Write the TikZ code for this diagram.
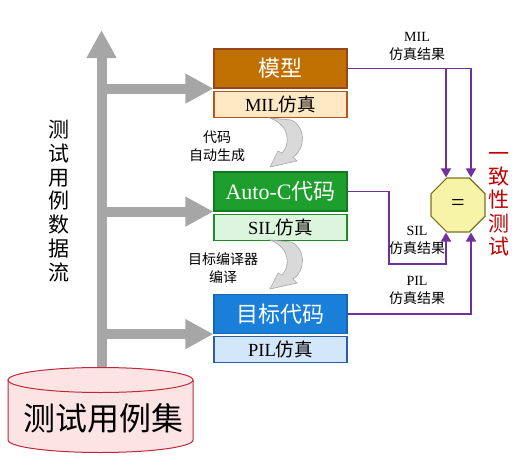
\documentclass[tikz,border=0pt]{standalone}
\usepackage{fontspec}
\setmainfont{Liberation Serif}
\newfontfamily\cjk{Noto Sans CJK SC}
\usetikzlibrary{positioning,shapes.geometric,arrows.meta}

\definecolor{modelfill}{HTML}{C07000}
\definecolor{modelline}{HTML}{96461A}
\definecolor{milfill}{HTML}{FFE8C4}
\definecolor{milline}{HTML}{B8541E}
\definecolor{codefill}{HTML}{1E9E2D}
\definecolor{codeline}{HTML}{127A20}
\definecolor{silfill}{HTML}{DCF5DC}
\definecolor{silline}{HTML}{1E8A2A}
\definecolor{targetfill}{HTML}{1A7FD8}
\definecolor{targetline}{HTML}{1565B0}
\definecolor{pilfill}{HTML}{D2E7FA}
\definecolor{pilline}{HTML}{2A5FA8}
\definecolor{eqfill}{HTML}{F7F4A8}
\definecolor{eqline}{HTML}{7A7020}
\definecolor{resline}{HTML}{7030A0}
\definecolor{flowgray}{HTML}{A6A6A6}
\definecolor{curlfill}{HTML}{D9D9D9}
\definecolor{suitefill}{HTML}{FCE4E4}
\definecolor{suiteline}{HTML}{C0283A}
\definecolor{checkred}{HTML}{C00000}

\begin{document}
\begin{tikzpicture}[x=1pt, y=-1pt,
    stage/.style={draw, line width=1.2pt, minimum width=133pt, minimum height=39pt, inner sep=0pt, text=white, font=\fontsize{22}{24}\selectfont},
    sim/.style={draw, line width=1.2pt, minimum width=133pt, minimum height=26pt, inner sep=0pt, font=\fontsize{18.5}{20}\selectfont},
    flow/.style={flowgray, line width=10pt, -{Triangle[width=28pt,length=28pt]}},
    res/.style={resline, line width=1.8pt, -{Triangle[width=10pt,length=9pt]}},
    tag/.style={align=center, font=\fontsize{14}{18}\selectfont},
    cjktag/.style={align=center, font=\cjk\fontsize{14}{18}\selectfont},
    curl/.style={fill=curlfill, draw=flowgray, line width=0.6pt}]
    \useasboundingbox (0,0) rectangle (527,455);

    % data flow
    \coordinate(stem) at (101.5,370);
    \coordinate(stemtop) at (101.5,30);
    \draw[flow] (stem)--(stemtop);

    \node[stage, fill=modelfill, draw=modelline] (model) at (280.5,68.5) {\cjk 模型};
    \node[sim, fill=milfill, draw=milline, below=2pt of model] (mil) {MIL\cjk 仿真};
    \node[stage, fill=codefill, draw=codeline] (autoc) at (280.5,191.5) {Auto-C\cjk 代码};
    \node[sim, fill=silfill, draw=silline, below=2pt of autoc] (sil) {SIL\cjk 仿真};
    \node[stage, fill=targetfill, draw=targetline] (target) at (280.5,314) {\cjk 目标代码};
    \node[sim, fill=pilfill, draw=pilline, below=2pt of target] (pil) {PIL\cjk 仿真};

    \draw[flow] (stem |- model.south west)--(model.south west);
    \draw[flow] (stem |- autoc.south west)--(autoc.south west);
    \draw[flow] (stem |- target.south west)--(target.south west);

    \node[align=center, font=\cjk\fontsize{21}{23.7}\selectfont] (flowtxt) at (58.5,201) {测\\试\\用\\例\\数\\据\\流};

    % test suite
    \filldraw[fill=suitefill, draw=suiteline, line width=1pt] (8,380)--(8,440)
        arc[start angle=180, end angle=360, x radius=92.5pt, y radius=12.5pt]--(193,380)
        arc[start angle=0, end angle=180, x radius=92.5pt, y radius=12.5pt]--cycle;
    \draw[suiteline, line width=1pt] (8,380) arc[start angle=180, end angle=360, x radius=92.5pt, y radius=12.5pt];
    \node[font=\cjk\fontsize{32}{34}\selectfont] (suite) at (103.5,418) {测试用例集};

    % code generation steps
    \filldraw[curl] (270,118)--(291,120) .. controls (306,126) and (306,149) .. (293,157)
        --(297,161)--(270,167)--(278,151)--(282,153) .. controls (290,145) and (291,126) .. (270,118)--cycle;
    \begin{scope}[shift={(0,122)}]
        \filldraw[curl] (270,118)--(291,120) .. controls (306,126) and (306,149) .. (293,157)
            --(297,161)--(270,167)--(278,151)--(282,153) .. controls (290,145) and (291,126) .. (270,118)--cycle;
    \end{scope}
    \node[cjktag] (gen) at (217,146) {代码\\自动生成};
    \node[cjktag] (comp) at (223,268.5) {目标编译器\\编译};

    % comparison
    \node[draw=eqline, fill=eqfill, line width=1.2pt, regular polygon, regular polygon sides=8,
        minimum size=58.4pt, inner sep=0pt, font=\fontsize{24}{24}\selectfont] (eq) at (458,205) {=};
    \coordinate(inA) at (446,0);
    \coordinate(inB) at (471,0);
    \coordinate(silbend) at (389,264);
    \draw[res] (model.east) -| (inB |- eq.north);
    \draw[res] (inA |- model.east)--(inA |- eq.north);
    \draw[res] (autoc.east) -| (silbend) -| (inA |- eq.south);
    \draw[res] (target.east) -| (inB |- eq.south);

    \node[tag] (milres) at (417,46) {MIL\\{\cjk 仿真结果}};
    \node[tag] (silres) at (417,240.5) {SIL\\{\cjk 仿真结果}};
    \node[tag] (pilres) at (417,290.5) {PIL\\{\cjk 仿真结果}};
    \node[align=center, text=checkred, font=\cjk\fontsize{21}{23.3}\selectfont] (check) at (499,204) {一\\致\\性\\测\\试};
\end{tikzpicture}
\end{document}
